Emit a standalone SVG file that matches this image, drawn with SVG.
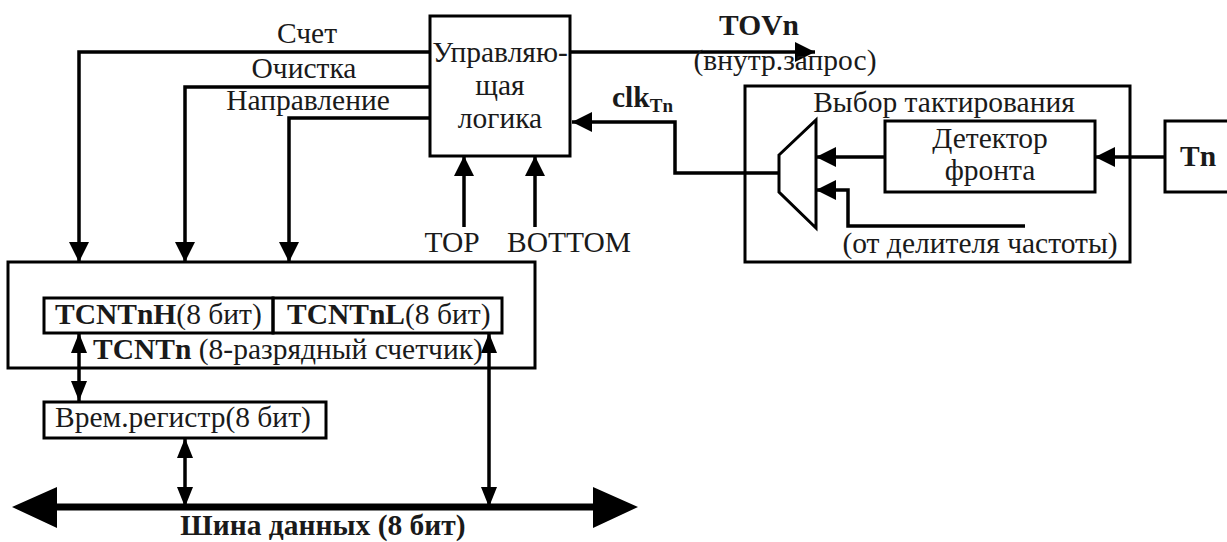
<svg xmlns="http://www.w3.org/2000/svg" width="1227" height="542" viewBox="0 0 1227 542">
<style>
.box{fill:none;stroke:#000;stroke-width:3}
.ln{fill:none;stroke:#000;stroke-width:3.5}
.t{font-family:"Liberation Serif","Times New Roman",serif;font-size:29.5px;fill:#1a1a1a}
.b{font-weight:bold}
.m{text-anchor:middle}
</style>
<defs>
<marker id="ah" viewBox="0 0 20 20" refX="20" refY="10" markerWidth="20" markerHeight="20" markerUnits="userSpaceOnUse" orient="auto-start-reverse">
<path d="M0,0 L20,10 L0,20 Z" fill="#000"/>
</marker>
<marker id="ahs" viewBox="0 0 20 16" refX="20" refY="8" markerWidth="20" markerHeight="16" markerUnits="userSpaceOnUse" orient="auto-start-reverse">
<path d="M0,0 L20,8 L0,16 Z" fill="#000"/>
</marker>
</defs>
<rect width="1227" height="542" fill="#fff"/>

<g id="connectors">
<path class="ln" d="M430,52 H79 V262" marker-end="url(#ah)"/>
<path class="ln" d="M430,87 H185 V262" marker-end="url(#ah)"/>
<path class="ln" d="M430,118 H289 V262" marker-end="url(#ah)"/>
<path class="ln" d="M570,52 H815" marker-end="url(#ah)"/>
<path class="ln" d="M779,173 H675 V122 H572" marker-end="url(#ah)"/>
<path class="ln" d="M464,227 V156" marker-end="url(#ah)"/>
<path class="ln" d="M535,227 V156" marker-end="url(#ah)"/>
<path class="ln" d="M1165,157 H1095" marker-end="url(#ah)"/>
<path class="ln" d="M885,157 H816" marker-end="url(#ah)"/>
<path class="ln" d="M1025,226 H848 V190 H816" marker-end="url(#ah)"/>
<path class="ln" d="M79,333 V401" marker-start="url(#ahs)" marker-end="url(#ahs)"/>
<path class="ln" d="M185,438 V507" marker-start="url(#ahs)" marker-end="url(#ahs)"/>
<path class="ln" d="M489,333 V507" marker-start="url(#ahs)" marker-end="url(#ahs)"/>
<path fill="none" stroke="#000" stroke-width="7" d="M50,507 H600"/>
<path d="M12,507 L57,487 L57,528 Z M638,507 L593,487 L593,528 Z" fill="#000"/>
</g>

<g id="labels">
<text class="t m" x="307" y="43">Счет</text>
<text class="t m" x="304" y="78">Очистка</text>
<text class="t m" x="308" y="110">Направление</text>
<text class="t m b" x="759" y="35">TOVn</text>
<text class="t m" x="785" y="70">(внутр.запрос)</text>
<text class="t b" x="612" y="107">clk<tspan font-size="19" dy="5">Tn</tspan></text>
<text class="t m" x="452" y="252">TOP</text>
<text class="t m" x="569" y="252">BOTTOM</text>
<text class="t m b" x="323" y="535">Шина данных (8 бит)</text>
</g>

<g id="control-logic">
<rect class="box" x="430" y="16" width="140" height="140"/>
<text class="t m" x="500" y="62">Управляю-</text>
<text class="t m" x="500" y="95">щая</text>
<text class="t m" x="500" y="128">логика</text>
</g>

<g id="clock-select">
<rect class="box" x="745" y="86" width="385" height="176"/>
<text class="t m" x="944" y="112">Выбор тактирования</text>
<text class="t m" x="980" y="253">(от делителя частоты)</text>
</g>

<g id="mux">
<path class="box" d="M779,155 L816,120 V228 L779,192 Z"/>
</g>

<g id="edge-detector">
<rect class="box" x="885" y="121" width="210" height="71"/>
<text class="t m" x="990" y="148" font-size="28">Детектор</text>
<text class="t m" x="990" y="180" font-size="28">фронта</text>
</g>

<g id="tn">
<rect class="box" x="1165" y="121" width="80" height="71"/>
<text class="t b" x="1180" y="166">Tn</text>
</g>

<g id="counter">
<rect class="box" x="8" y="262" width="527" height="106"/>
<text class="t" x="93" y="359"><tspan class="b">TCNTn</tspan> (8-разрядный счетчик)</text>
</g>

<g id="tcntnh">
<rect class="box" x="44" y="298" width="229" height="35"/>
<text class="t" x="55" y="324"><tspan class="b">TCNTnH</tspan>(8 бит)</text>
</g>

<g id="tcntnl">
<rect class="box" x="273" y="298" width="229" height="35"/>
<text class="t" x="287" y="324"><tspan class="b">TCNTnL</tspan>(8 бит)</text>
</g>

<g id="temp-register">
<rect class="box" x="44" y="402" width="282" height="36"/>
<text class="t" x="55" y="427">Врем.регистр(8 бит)</text>
</g>
</svg>
